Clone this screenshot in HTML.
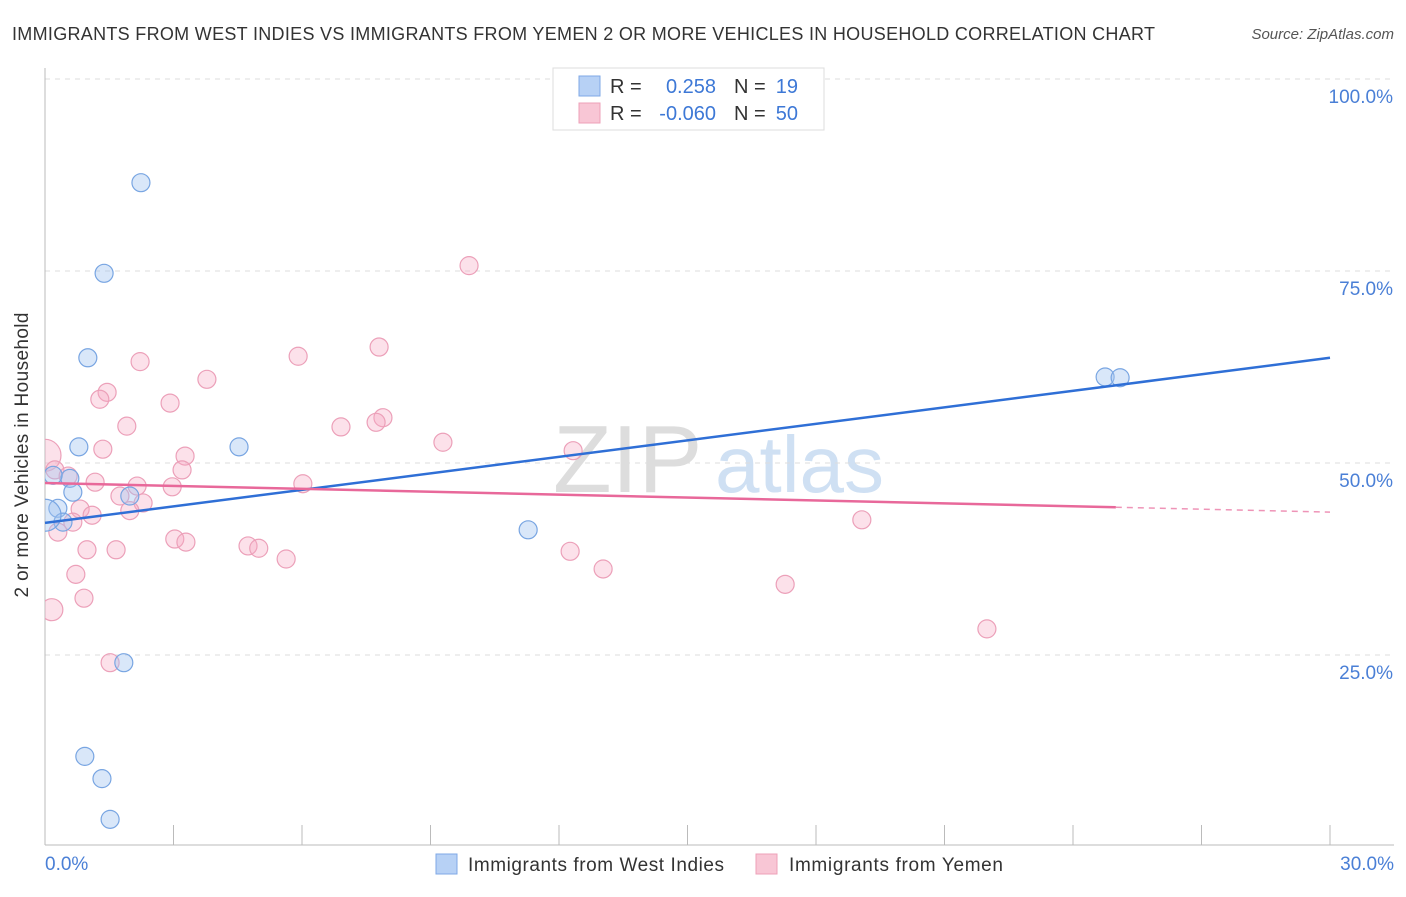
<!DOCTYPE html>
<html><head><meta charset="utf-8"><style>
body{margin:0;background:#fff;font-family:"Liberation Sans",sans-serif;}
svg text{font-family:"Liberation Sans",sans-serif;}
</style></head><body>
<svg width="1406" height="892" xmlns="http://www.w3.org/2000/svg" id="chart">
<defs><clipPath id="plotclip"><rect x="45" y="60" width="1360" height="785"/></clipPath></defs>
<text x="12" y="40" font-size="18" textLength="1143" fill="#333">IMMIGRANTS FROM WEST INDIES VS IMMIGRANTS FROM YEMEN 2 OR MORE VEHICLES IN HOUSEHOLD CORRELATION CHART</text>
<text x="1394" y="39" font-size="15" fill="#555" font-style="italic" text-anchor="end">Source: ZipAtlas.com</text>
<g>
<text x="553" y="492" font-size="96" fill="#ddd" font-family="Liberation Serif,serif">ZIP</text>
<text x="715" y="492" font-size="80" fill="#cfe0f3">atlas</text>
</g>
<g id="grid"></g>
<g id="axes"></g>
<g id="pts" clip-path="url(#plotclip)"></g>
<g id="lines"></g>
<text x="28" y="455" font-size="19" textLength="285" fill="#333" text-anchor="middle" transform="rotate(-90 28 455)">2 or more Vehicles in Household</text>
<text x="45" y="870" font-size="19" fill="#4a7fd6">0.0%</text>
<text x="1394" y="870" font-size="19" fill="#4a7fd6" text-anchor="end">30.0%</text>
<g>
<rect x="553" y="68" width="271" height="62" fill="#fff" stroke="#ddd"/>
<rect x="579" y="76" width="21" height="20" fill="#b7d1f5" stroke="#7fa8e6"/>
<rect x="579" y="103" width="21" height="20" fill="#f8c6d5" stroke="#eea0b8"/>
<text x="610" y="93" font-size="20" fill="#333">R =</text>
<text x="716" y="93" font-size="20" fill="#3d78d6" text-anchor="end">0.258</text>
<text x="734" y="93" font-size="20" fill="#333">N =</text>
<text x="798" y="93" font-size="20" fill="#3d78d6" text-anchor="end">19</text>
<text x="610" y="120" font-size="20" fill="#333">R =</text>
<text x="716" y="120" font-size="20" fill="#3d78d6" text-anchor="end">-0.060</text>
<text x="734" y="120" font-size="20" fill="#333">N =</text>
<text x="798" y="120" font-size="20" fill="#3d78d6" text-anchor="end">50</text>
</g>
<g>
<rect x="436" y="854" width="21" height="20" fill="#b7d1f5" stroke="#7fa8e6"/>
<text x="468" y="871" font-size="19" textLength="256" fill="#333">Immigrants from West Indies</text>
<rect x="756" y="854" width="21" height="20" fill="#f8c6d5" stroke="#eea0b8"/>
<text x="789" y="871" font-size="19" textLength="214" fill="#333">Immigrants from Yemen</text>
</g>
</svg>
<script>
const yTicks=[25,50,75,100];
const yTickLabels=["25.0%","50.0%","75.0%","100.0%"];
const xTicks=[0,3,6,9,12,15,18,21,24,27,30];
const blueX=[2.24,1.38,1.00,0.79,4.53,0.58,0.65,0.30,0.42,0.0,1.98,11.28,1.84,0.93,1.33,1.52,24.75,25.10,0.19];
const blueY=[86.5,74.7,63.7,52.1,52.1,48.0,46.2,44.1,42.3,43.2,45.7,41.3,24.0,11.8,8.9,3.6,61.2,61.1,48.4];
const blueR=[9,9,9,9,9,9,9,9,9,16,9,9,9,9,9,9,9,9,9];
const pinkX=[9.90,7.80,5.91,2.22,3.78,1.45,1.28,2.92,7.89,7.73,6.91,1.91,9.29,1.35,12.33,3.27,0,3.20,0.23,0.54,1.17,2.97,6.02,2.15,1.75,2.29,1.98,0.82,1.10,0.65,0.30,3.03,3.29,4.74,4.99,0.98,1.66,5.63,12.26,13.03,0.72,0.91,0.16,1.52,17.28,19.07,21.99];
const pinkY=[75.7,65.1,63.9,63.2,60.9,59.2,58.3,57.8,55.9,55.3,54.7,54.8,52.7,51.8,51.6,50.9,51.0,49.1,49.1,48.3,47.5,46.9,47.3,47.0,45.7,44.8,43.8,44.0,43.2,42.3,41.0,40.1,39.7,39.2,38.9,38.7,38.7,37.5,38.5,36.2,35.5,32.4,30.9,24.0,34.2,42.6,28.4];
const pinkR=[9,9,9,9,9,9,9,9,9,9,9,9,9,9,9,9,16,9,9,9,9,9,9,9,9,9,9,9,9,9,9,9,9,9,9,9,9,9,9,9,9,9,11,9,9,9,9];
const blueFit=[42.2,63.7];
const pinkFit=[47.4,43.6];
const pinkSolidEnd=25.0;
const NS="http://www.w3.org/2000/svg";
const xs=v=>45+v/30*1285, ys=v=>847-v/100*768;
function mk(t,a,p){const e=document.createElementNS(NS,t);for(const k in a)e.setAttribute(k,a[k]);document.getElementById(p).appendChild(e);return e;}
yTicks.forEach((t,i)=>{
 const g=mk('line',{x1:45,x2:1394,y1:ys(t),y2:ys(t),stroke:'#ddd','stroke-dasharray':'5,5'},'grid');
 
 
 const l=mk('text',{x:1393,y:ys(t)+24,'font-size':19,fill:'#4a7fd6','text-anchor':'end'},'grid');
 l.textContent=yTickLabels[i];
 
 
});
const ax=mk('line',{x1:45,x2:45,y1:68,y2:845,stroke:'#bbb'},'axes');


const bx=mk('line',{x1:45,x2:1394,y1:845,y2:845,stroke:'#bbb'},'axes');


xTicks.forEach(t=>{
 const k=mk('line',{x1:xs(t),x2:xs(t),y1:825,y2:845,stroke:'#bbb'},'axes');
 
 
});
pinkX.forEach((x,i)=>{
 const c=mk('circle',{cx:xs(x),cy:ys(pinkY[i]),r:pinkR[i],fill:'rgba(245,170,195,0.35)',stroke:'#eca0b9','stroke-width':1.2},'pts');
 
 
});
blueX.forEach((x,i)=>{
 const c=mk('circle',{cx:xs(x),cy:ys(blueY[i]),r:blueR[i],fill:'rgba(160,195,240,0.4)',stroke:'#78a5e2','stroke-width':1.2},'pts');
 
 
});
const bl=mk('line',{x1:xs(0),y1:ys(blueFit[0]),x2:xs(30),y2:ys(blueFit[1]),stroke:'#2f6fd6','stroke-width':2.5},'lines');


const pe=pinkFit[0]+(pinkFit[1]-pinkFit[0])*pinkSolidEnd/30;
const pl=mk('line',{x1:xs(0),y1:ys(pinkFit[0]),x2:xs(pinkSolidEnd),y2:ys(pe),stroke:'#e8689a','stroke-width':2.5},'lines');


const pd=mk('line',{x1:xs(pinkSolidEnd),y1:ys(pe),x2:xs(30),y2:ys(pinkFit[1]),stroke:'#e8689a','stroke-width':1.5,'stroke-dasharray':'6,5',opacity:0.7},'lines');


</script>
</body></html>
